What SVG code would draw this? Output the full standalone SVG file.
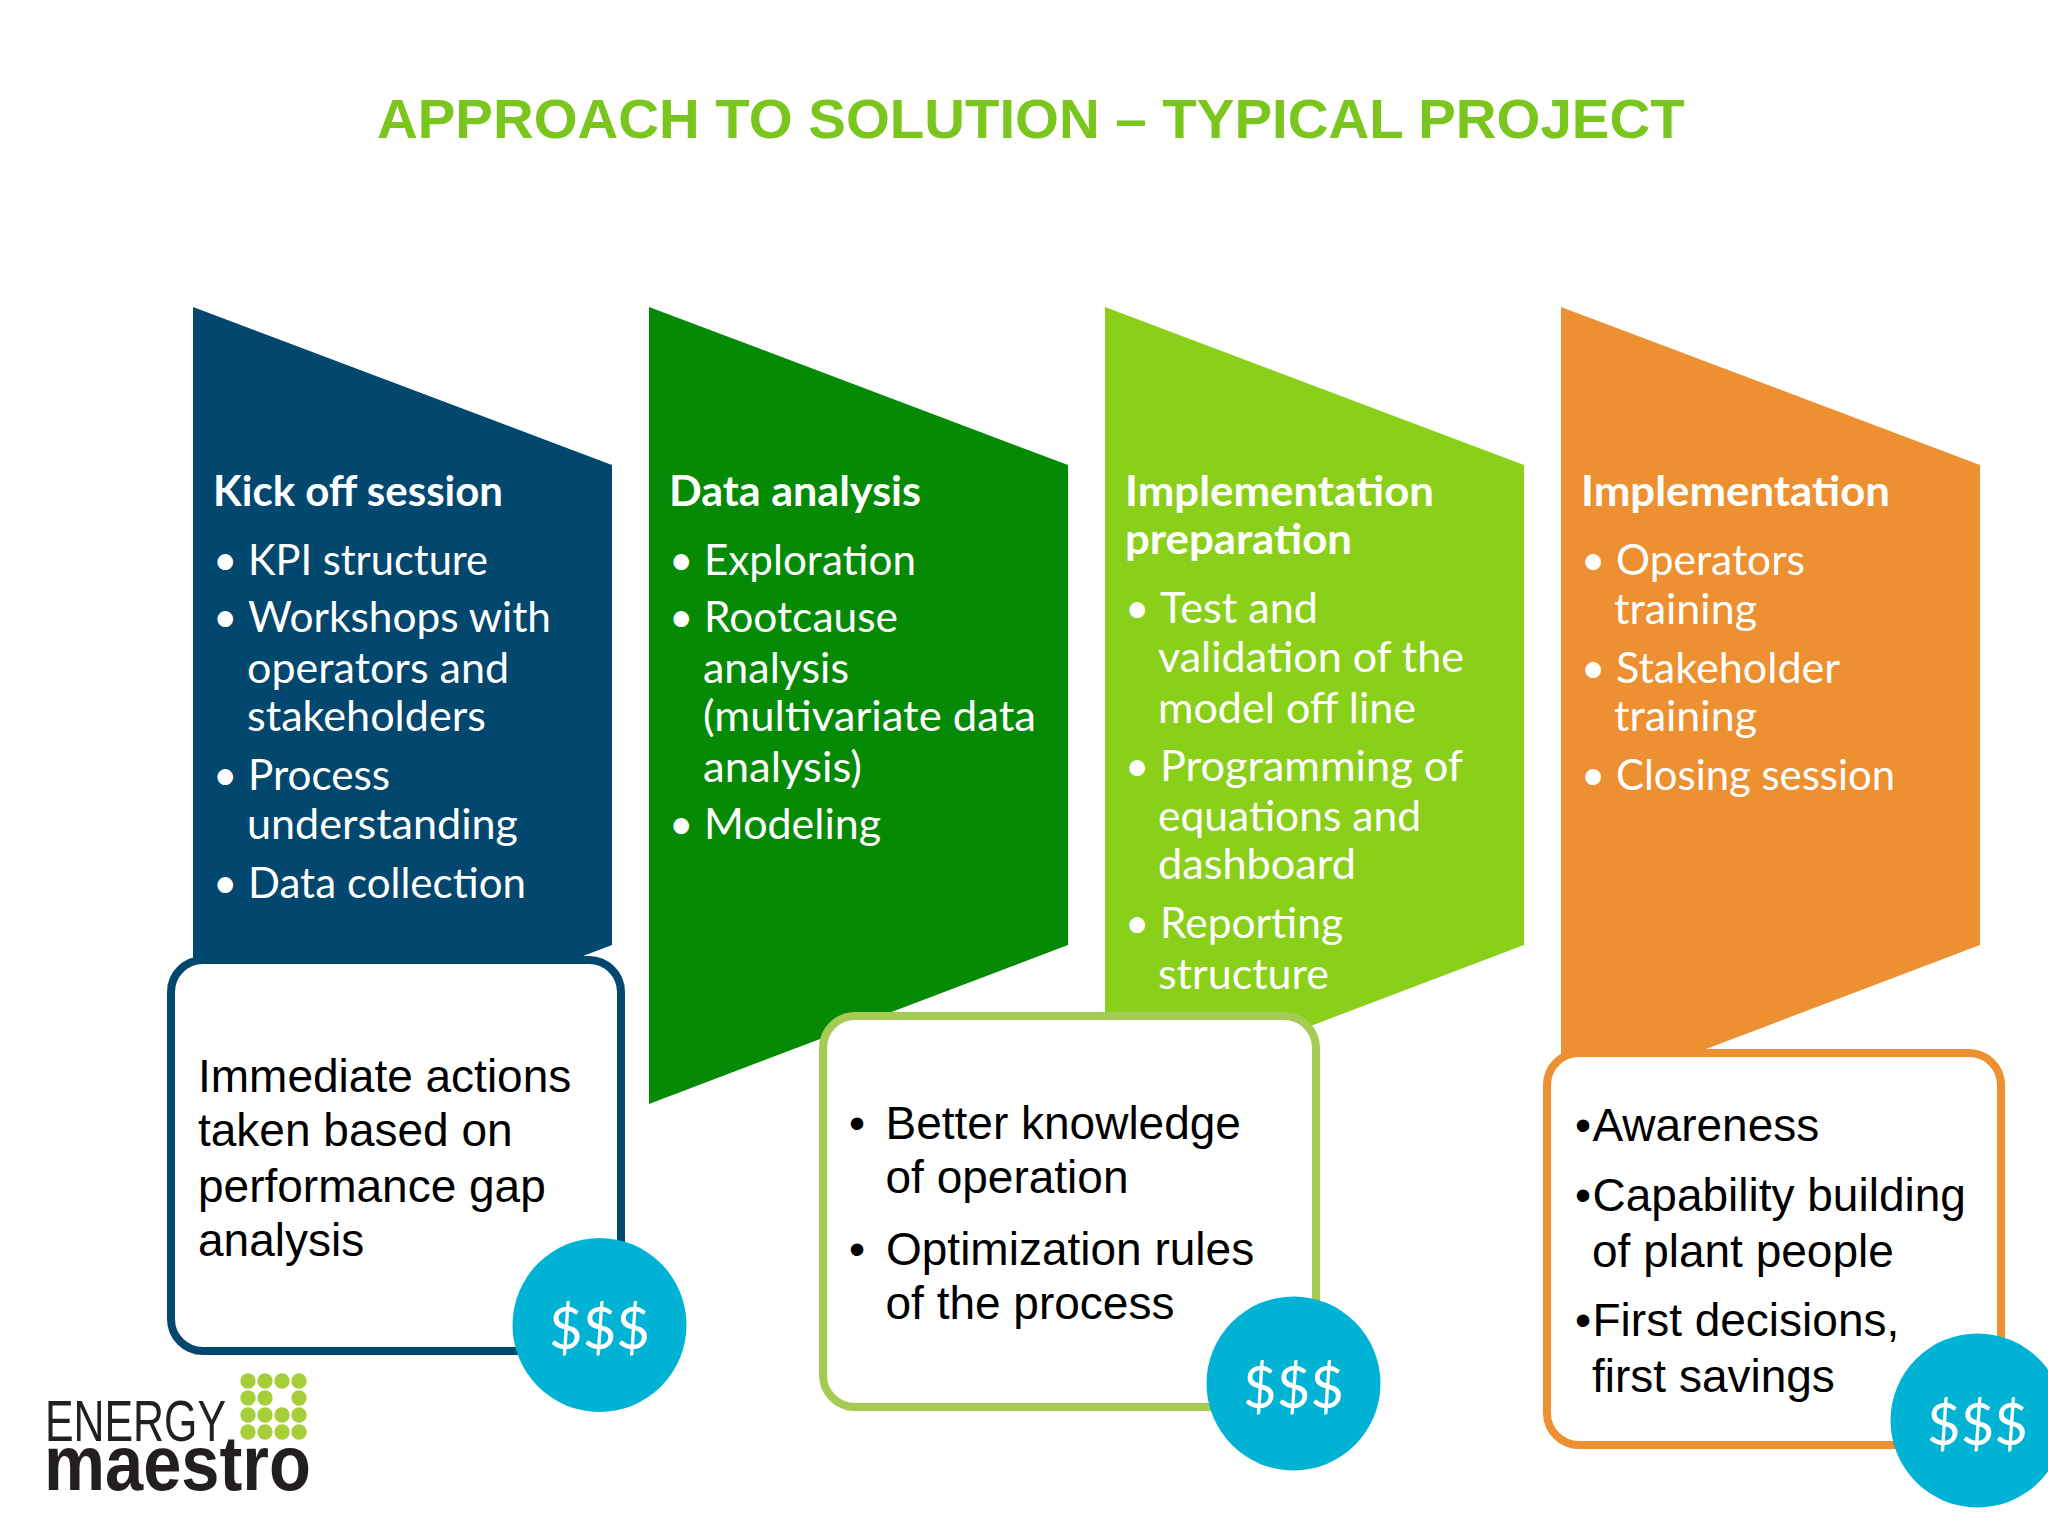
<svg xmlns="http://www.w3.org/2000/svg" width="2048" height="1536" viewBox="0 0 2048 1536">
<style>
text{font-family:"Liberation Sans",Arial,sans-serif}
.title{font-size:56.4px;font-weight:700;fill:#7AC51E}
.h{font-family:Lato,"Liberation Sans",sans-serif;font-size:42px;font-weight:700;fill:#fff}
.b{font-family:Lato,"Liberation Sans",sans-serif;font-size:42px;fill:#fff}
.t{font-size:46px;fill:#000}
.card{fill:#fff;stroke-width:8}
.coin{fill:#00B2D3}
.d{font-family:Lato,"Liberation Sans",sans-serif;font-size:58px;fill:#fff;text-anchor:middle}
.dot{fill:#A6CE39}
</style>
<rect width="2048" height="1536" fill="#fff"/>
<text class="title" x="377" y="138">APPROACH TO SOLUTION – TYPICAL PROJECT</text>
<g id="step1">
<polygon points="193,307 612,465 612,945 193,1104" fill="#02476D"/>
<text class="h" x="213" y="506" textLength="290" lengthAdjust="spacingAndGlyphs">Kick off session</text>
<text class="b" x="213" y="575">•</text><text class="b" x="248" y="575" textLength="240" lengthAdjust="spacingAndGlyphs">KPI structure</text>
<text class="b" x="213" y="632">•</text><text class="b" x="248" y="632" textLength="303" lengthAdjust="spacingAndGlyphs">Workshops with</text>
<text class="b" x="247" y="683" textLength="262" lengthAdjust="spacingAndGlyphs">operators and</text>
<text class="b" x="247" y="731" textLength="239" lengthAdjust="spacingAndGlyphs">stakeholders</text>
<text class="b" x="213" y="790">•</text><text class="b" x="248" y="790" textLength="142" lengthAdjust="spacingAndGlyphs">Process</text>
<text class="b" x="247" y="839" textLength="271" lengthAdjust="spacingAndGlyphs">understanding</text>
<text class="b" x="213" y="898">•</text><text class="b" x="248" y="898" textLength="278" lengthAdjust="spacingAndGlyphs">Data collection</text>
</g>
<g id="step2">
<polygon points="649,307 1068,465 1068,945 649,1104" fill="#058A05"/>
<text class="h" x="669" y="506" textLength="252" lengthAdjust="spacingAndGlyphs">Data analysis</text>
<text class="b" x="669" y="575">•</text><text class="b" x="704" y="575" textLength="212" lengthAdjust="spacingAndGlyphs">Exploration</text>
<text class="b" x="669" y="632">•</text><text class="b" x="704" y="632" textLength="194" lengthAdjust="spacingAndGlyphs">Rootcause</text>
<text class="b" x="703" y="683" textLength="146" lengthAdjust="spacingAndGlyphs">analysis</text>
<text class="b" x="703" y="731" textLength="333" lengthAdjust="spacingAndGlyphs">(multivariate data</text>
<text class="b" x="703" y="782" textLength="159" lengthAdjust="spacingAndGlyphs">analysis)</text>
<text class="b" x="669" y="839">•</text><text class="b" x="704" y="839" textLength="177" lengthAdjust="spacingAndGlyphs">Modeling</text>
</g>
<g id="step3">
<polygon points="1105,307 1524,465 1524,945 1105,1104" fill="#8AD01A"/>
<text class="h" x="1125" y="506" textLength="309" lengthAdjust="spacingAndGlyphs">Implementation</text>
<text class="h" x="1125" y="554" textLength="227" lengthAdjust="spacingAndGlyphs">preparation</text>
<text class="b" x="1125" y="623">•</text><text class="b" x="1160" y="623" textLength="158" lengthAdjust="spacingAndGlyphs">Test and</text>
<text class="b" x="1158" y="672" textLength="306" lengthAdjust="spacingAndGlyphs">validation of the</text>
<text class="b" x="1158" y="723" textLength="258" lengthAdjust="spacingAndGlyphs">model off line</text>
<text class="b" x="1125" y="781">•</text><text class="b" x="1160" y="781" textLength="303" lengthAdjust="spacingAndGlyphs">Programming of</text>
<text class="b" x="1158" y="831" textLength="263" lengthAdjust="spacingAndGlyphs">equations and</text>
<text class="b" x="1158" y="879" textLength="198" lengthAdjust="spacingAndGlyphs">dashboard</text>
<text class="b" x="1125" y="938">•</text><text class="b" x="1160" y="938" textLength="183" lengthAdjust="spacingAndGlyphs">Reporting</text>
<text class="b" x="1158" y="989" textLength="171" lengthAdjust="spacingAndGlyphs">structure</text>
</g>
<g id="step4">
<polygon points="1561,307 1980,465 1980,945 1561,1104" fill="#EC9032"/>
<text class="h" x="1581" y="506" textLength="309" lengthAdjust="spacingAndGlyphs">Implementation</text>
<text class="b" x="1581" y="575">•</text><text class="b" x="1616" y="575" textLength="189" lengthAdjust="spacingAndGlyphs">Operators</text>
<text class="b" x="1614" y="624" textLength="143" lengthAdjust="spacingAndGlyphs">training</text>
<text class="b" x="1581" y="683">•</text><text class="b" x="1616" y="683" textLength="224" lengthAdjust="spacingAndGlyphs">Stakeholder</text>
<text class="b" x="1614" y="731" textLength="143" lengthAdjust="spacingAndGlyphs">training</text>
<text class="b" x="1581" y="790">•</text><text class="b" x="1616" y="790" textLength="279" lengthAdjust="spacingAndGlyphs">Closing session</text>
</g>
<g id="result1">
<rect class="card" x="171" y="960" width="450" height="391" rx="32" stroke="#02476D"/>
<text class="t" x="198" y="1092">Immediate actions</text>
<text class="t" x="198" y="1146">taken based on</text>
<text class="t" x="198" y="1202">performance gap</text>
<text class="t" x="198" y="1256">analysis</text>
<circle class="coin" cx="599.5" cy="1325" r="87"/>
<text class="d" x="599.5" y="1349">$$$</text>
</g>
<g id="result2">
<rect class="card" x="823" y="1016" width="493" height="391" rx="32" stroke="#A5CB55"/>
<text class="t" x="849" y="1139">•</text><text class="t" x="885.5" y="1139">Better knowledge</text>
<text class="t" x="885.5" y="1193">of operation</text>
<text class="t" x="849" y="1265">•</text><text class="t" x="886" y="1265">Optimization rules</text>
<text class="t" x="885.5" y="1319">of the process</text>
<circle class="coin" cx="1293.5" cy="1383.5" r="87"/>
<text class="d" x="1293.5" y="1408">$$$</text>
</g>
<g id="result3">
<rect class="card" x="1547" y="1053" width="454" height="392" rx="32" stroke="#EC9032"/>
<text class="t" x="1575" y="1141">•</text><text class="t" x="1592.5" y="1141">Awareness</text>
<text class="t" x="1575" y="1211">•</text><text class="t" x="1592.5" y="1211">Capability building</text>
<text class="t" x="1592" y="1267">of plant people</text>
<text class="t" x="1575" y="1336">•</text><text class="t" x="1592.5" y="1336">First decisions,</text>
<text class="t" x="1592" y="1392">first savings</text>
<circle class="coin" cx="1977.5" cy="1420.5" r="87"/>
<text class="d" x="1977.5" y="1445">$$$</text>
</g>
<g id="logo">
<circle class="dot" cx="248" cy="1381" r="7.7"/><circle class="dot" cx="265" cy="1381" r="7.7"/><circle class="dot" cx="282" cy="1381" r="7.7"/><circle class="dot" cx="299" cy="1381" r="7.7"/>
<circle class="dot" cx="248" cy="1398" r="7.7"/><circle class="dot" cx="265" cy="1398" r="7.7"/><circle class="dot" cx="299" cy="1398" r="7.7"/>
<circle class="dot" cx="248" cy="1415" r="7.7"/><circle class="dot" cx="265" cy="1415" r="7.7"/><circle class="dot" cx="282" cy="1415" r="7.7"/><circle class="dot" cx="299" cy="1415" r="7.7"/>
<circle class="dot" cx="248" cy="1432" r="7.7"/><circle class="dot" cx="265" cy="1432" r="7.7"/><circle class="dot" cx="282" cy="1432" r="7.7"/><circle class="dot" cx="299" cy="1432" r="7.7"/>
<text x="45" y="1441" font-family="Lato" font-weight="300" font-size="58" fill="#231F20" textLength="181" lengthAdjust="spacingAndGlyphs">ENERGY</text>
<text x="44" y="1490" font-family="'Open Sans'" font-weight="700" font-size="78" fill="#231F20" textLength="267" lengthAdjust="spacingAndGlyphs">maestro</text>
</g>
</svg>
